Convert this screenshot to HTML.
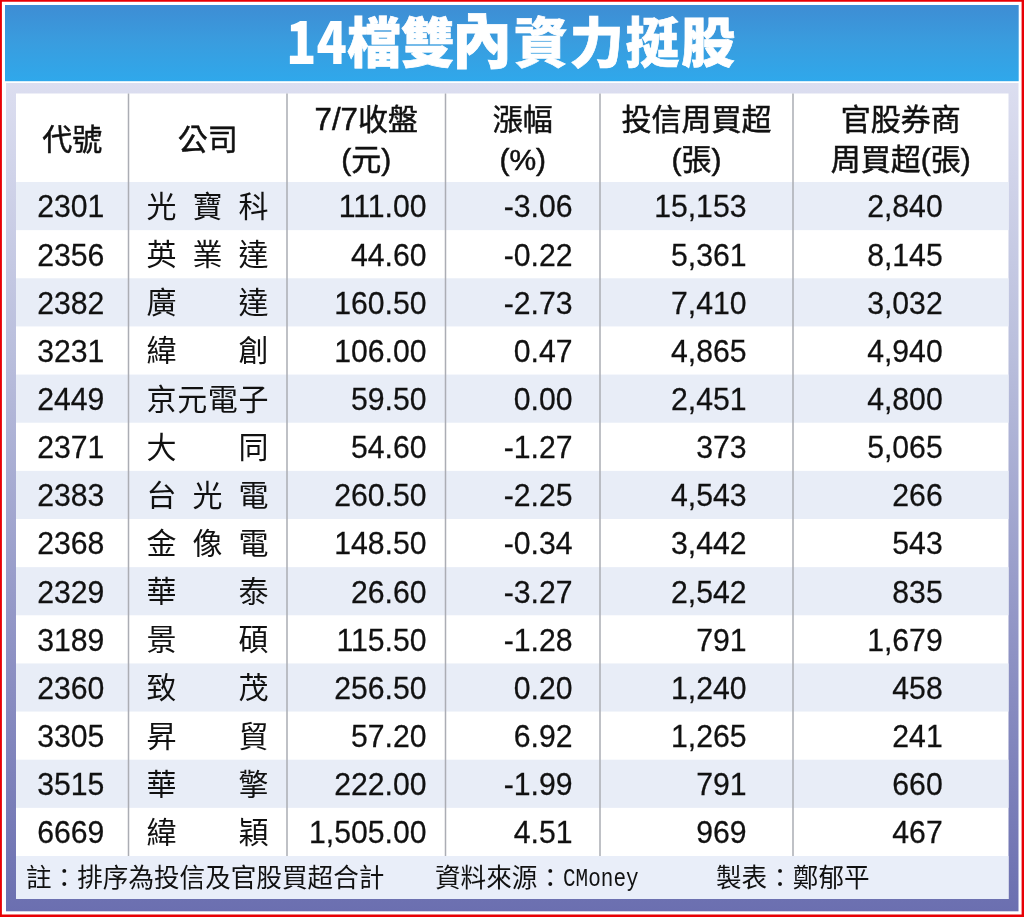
<!DOCTYPE html>
<html lang="zh-Hant">
<head>
<meta charset="utf-8">
<title>14檔雙內資力挺股</title>
<style>
html,body{margin:0;padding:0;}
body{width:1024px;height:917px;position:relative;overflow:hidden;background:#fff;
 font-family:"Liberation Sans","Noto Sans CJK TC",sans-serif;color:#111;}
.bg{position:absolute;left:0;top:0;}
.title{position:absolute;left:286px;top:-1px;height:80px;line-height:80px;margin:0;
 color:#fff;font-weight:900;font-size:56px;white-space:nowrap;font-family:"Noto Sans CJK TC","Liberation Sans",sans-serif;}
.title .n{position:absolute;left:0;top:0.75px;transform-origin:0 64px;transform:scale(0.893,1.02);}
.title .s2{display:inline-block;transform:translate(-2px,0);}
.title .nei{display:inline-block;transform:translate(-3px,-2.8px) scale(1.11,1.12);}
.title .t{position:absolute;left:61px;top:0.7px;letter-spacing:1.7px;font-size:54px;-webkit-text-stroke:0.7px #fff;}
.th{-webkit-text-stroke:0.5px #111;position:absolute;text-align:center;font-size:30px;font-weight:400;line-height:40px;white-space:nowrap;}
.th .l{font-size:31.2px;line-height:30px;}
.c{position:absolute;height:48px;line-height:48px;font-size:30px;white-space:nowrap;}
.num,.code{-webkit-text-stroke:0.25px #111;transform:scaleY(1.04);transform-origin:50% 50%;font-size:30.2px;}
.num{text-align:right;}
.code{text-align:center;}
.co{text-align:justify;text-align-last:justify;font-weight:400;font-size:30px;}
.ft{position:absolute;top:857px;height:43px;line-height:43px;font-size:25.6px;font-weight:400;white-space:nowrap;}
.mono{font-family:"Liberation Mono",monospace;font-size:21px;display:inline-block;line-height:24px;vertical-align:baseline;transform:scaleY(1.27);transform-origin:0 19px;}
</style>
</head>
<body>
<svg class="bg" width="1024" height="917" viewBox="0 0 1024 917">
<defs><linearGradient id="gb" x1="0" y1="0" x2="0" y2="1"><stop offset="0" stop-color="#3e8dd4"/><stop offset="0.5" stop-color="#399ddf"/><stop offset="1" stop-color="#2fa8eb"/></linearGradient><linearGradient id="gf" x1="0" y1="0" x2="0" y2="1"><stop offset="0" stop-color="#dcdef0"/><stop offset="0.33" stop-color="#b9bedc"/><stop offset="0.67" stop-color="#9094c5"/><stop offset="1" stop-color="#6b6fb0"/></linearGradient></defs>
<rect width="1024" height="917" fill="#fff"/>
<path fill-rule="evenodd" fill="#e80005" d="M0 0H1024V917H0Z M1.9 1.8V914.6H1021.6V1.8Z"/>
<rect x="5" y="5" width="1013.7" height="76.2" fill="url(#gb)"/>
<rect x="6" y="83" width="1012.5" height="828.3" fill="url(#gf)"/>
<rect x="16" y="93.5" width="992.5" height="805.5" fill="#fff"/>
<rect x="16" y="182.00" width="992.5" height="48.14" fill="#e8edf7"/>
<rect x="16" y="278.29" width="992.5" height="48.14" fill="#e8edf7"/>
<rect x="16" y="374.57" width="992.5" height="48.14" fill="#e8edf7"/>
<rect x="16" y="470.86" width="992.5" height="48.14" fill="#e8edf7"/>
<rect x="16" y="567.14" width="992.5" height="48.14" fill="#e8edf7"/>
<rect x="16" y="663.43" width="992.5" height="48.14" fill="#e8edf7"/>
<rect x="16" y="759.71" width="992.5" height="48.14" fill="#e8edf7"/>
<rect x="16" y="856" width="992.5" height="43" fill="#e9eef9"/>
<rect x="127.75" y="93.5" width="1.5" height="762.5" fill="#abadb4"/>
<rect x="286.25" y="93.5" width="1.5" height="762.5" fill="#abadb4"/>
<rect x="444.75" y="93.5" width="1.5" height="762.5" fill="#abadb4"/>
<rect x="599.25" y="93.5" width="1.5" height="762.5" fill="#abadb4"/>
<rect x="792.25" y="93.5" width="1.5" height="762.5" fill="#abadb4"/>
</svg>
<h1 class="title"><span class="n">14</span><span class="t">檔<span class="s2">雙</span><span class="nei">內</span>資力挺股</span></h1>
<div class="th" style="left:16px;width:112.5px;top:120.00px">代號</div>
<div class="th" style="left:128.5px;width:158.5px;top:120.00px">公司</div>
<div class="th" style="left:287px;width:158.5px;top:100.00px"><span class="l">7/7</span>收盤<br>(元)</div>
<div class="th" style="left:445.5px;width:154.5px;top:100.00px">漲幅<br>(%)</div>
<div class="th" style="left:600px;width:193px;top:100.00px">投信周買超<br>(張)</div>
<div class="th" style="left:793px;width:215.5px;top:100.00px">官股券商<br>周買超(張)</div>
<div class="c code" style="left:14.5px;width:112.5px;top:183.40px">2301</div>
<div class="c co" style="left:146.5px;width:122px;top:183.00px">光寶科</div>
<div class="c num" style="left:226.5px;width:200px;top:183.40px">111.00</div>
<div class="c num" style="left:372.5px;width:200px;top:183.40px">-3.06</div>
<div class="c num" style="left:546.5px;width:200px;top:183.40px">15,153</div>
<div class="c num" style="left:742.7px;width:200px;top:183.40px">2,840</div>
<div class="c code" style="left:14.5px;width:112.5px;top:231.54px">2356</div>
<div class="c co" style="left:146.5px;width:122px;top:231.14px">英業達</div>
<div class="c num" style="left:226.5px;width:200px;top:231.54px">44.60</div>
<div class="c num" style="left:372.5px;width:200px;top:231.54px">-0.22</div>
<div class="c num" style="left:546.5px;width:200px;top:231.54px">5,361</div>
<div class="c num" style="left:742.7px;width:200px;top:231.54px">8,145</div>
<div class="c code" style="left:14.5px;width:112.5px;top:279.69px">2382</div>
<div class="c co" style="left:146.5px;width:122px;top:279.29px">廣達</div>
<div class="c num" style="left:226.5px;width:200px;top:279.69px">160.50</div>
<div class="c num" style="left:372.5px;width:200px;top:279.69px">-2.73</div>
<div class="c num" style="left:546.5px;width:200px;top:279.69px">7,410</div>
<div class="c num" style="left:742.7px;width:200px;top:279.69px">3,032</div>
<div class="c code" style="left:14.5px;width:112.5px;top:327.83px">3231</div>
<div class="c co" style="left:146.5px;width:122px;top:327.43px">緯創</div>
<div class="c num" style="left:226.5px;width:200px;top:327.83px">106.00</div>
<div class="c num" style="left:372.5px;width:200px;top:327.83px">0.47</div>
<div class="c num" style="left:546.5px;width:200px;top:327.83px">4,865</div>
<div class="c num" style="left:742.7px;width:200px;top:327.83px">4,940</div>
<div class="c code" style="left:14.5px;width:112.5px;top:375.97px">2449</div>
<div class="c co" style="left:146.5px;width:122px;top:375.57px">京元電子</div>
<div class="c num" style="left:226.5px;width:200px;top:375.97px">59.50</div>
<div class="c num" style="left:372.5px;width:200px;top:375.97px">0.00</div>
<div class="c num" style="left:546.5px;width:200px;top:375.97px">2,451</div>
<div class="c num" style="left:742.7px;width:200px;top:375.97px">4,800</div>
<div class="c code" style="left:14.5px;width:112.5px;top:424.11px">2371</div>
<div class="c co" style="left:146.5px;width:122px;top:423.71px">大同</div>
<div class="c num" style="left:226.5px;width:200px;top:424.11px">54.60</div>
<div class="c num" style="left:372.5px;width:200px;top:424.11px">-1.27</div>
<div class="c num" style="left:546.5px;width:200px;top:424.11px">373</div>
<div class="c num" style="left:742.7px;width:200px;top:424.11px">5,065</div>
<div class="c code" style="left:14.5px;width:112.5px;top:472.26px">2383</div>
<div class="c co" style="left:146.5px;width:122px;top:471.86px">台光電</div>
<div class="c num" style="left:226.5px;width:200px;top:472.26px">260.50</div>
<div class="c num" style="left:372.5px;width:200px;top:472.26px">-2.25</div>
<div class="c num" style="left:546.5px;width:200px;top:472.26px">4,543</div>
<div class="c num" style="left:742.7px;width:200px;top:472.26px">266</div>
<div class="c code" style="left:14.5px;width:112.5px;top:520.40px">2368</div>
<div class="c co" style="left:146.5px;width:122px;top:520.00px">金像電</div>
<div class="c num" style="left:226.5px;width:200px;top:520.40px">148.50</div>
<div class="c num" style="left:372.5px;width:200px;top:520.40px">-0.34</div>
<div class="c num" style="left:546.5px;width:200px;top:520.40px">3,442</div>
<div class="c num" style="left:742.7px;width:200px;top:520.40px">543</div>
<div class="c code" style="left:14.5px;width:112.5px;top:568.54px">2329</div>
<div class="c co" style="left:146.5px;width:122px;top:568.14px">華泰</div>
<div class="c num" style="left:226.5px;width:200px;top:568.54px">26.60</div>
<div class="c num" style="left:372.5px;width:200px;top:568.54px">-3.27</div>
<div class="c num" style="left:546.5px;width:200px;top:568.54px">2,542</div>
<div class="c num" style="left:742.7px;width:200px;top:568.54px">835</div>
<div class="c code" style="left:14.5px;width:112.5px;top:616.69px">3189</div>
<div class="c co" style="left:146.5px;width:122px;top:616.29px">景碩</div>
<div class="c num" style="left:226.5px;width:200px;top:616.69px">115.50</div>
<div class="c num" style="left:372.5px;width:200px;top:616.69px">-1.28</div>
<div class="c num" style="left:546.5px;width:200px;top:616.69px">791</div>
<div class="c num" style="left:742.7px;width:200px;top:616.69px">1,679</div>
<div class="c code" style="left:14.5px;width:112.5px;top:664.83px">2360</div>
<div class="c co" style="left:146.5px;width:122px;top:664.43px">致茂</div>
<div class="c num" style="left:226.5px;width:200px;top:664.83px">256.50</div>
<div class="c num" style="left:372.5px;width:200px;top:664.83px">0.20</div>
<div class="c num" style="left:546.5px;width:200px;top:664.83px">1,240</div>
<div class="c num" style="left:742.7px;width:200px;top:664.83px">458</div>
<div class="c code" style="left:14.5px;width:112.5px;top:712.97px">3305</div>
<div class="c co" style="left:146.5px;width:122px;top:712.57px">昇貿</div>
<div class="c num" style="left:226.5px;width:200px;top:712.97px">57.20</div>
<div class="c num" style="left:372.5px;width:200px;top:712.97px">6.92</div>
<div class="c num" style="left:546.5px;width:200px;top:712.97px">1,265</div>
<div class="c num" style="left:742.7px;width:200px;top:712.97px">241</div>
<div class="c code" style="left:14.5px;width:112.5px;top:761.11px">3515</div>
<div class="c co" style="left:146.5px;width:122px;top:760.71px">華擎</div>
<div class="c num" style="left:226.5px;width:200px;top:761.11px">222.00</div>
<div class="c num" style="left:372.5px;width:200px;top:761.11px">-1.99</div>
<div class="c num" style="left:546.5px;width:200px;top:761.11px">791</div>
<div class="c num" style="left:742.7px;width:200px;top:761.11px">660</div>
<div class="c code" style="left:14.5px;width:112.5px;top:809.26px">6669</div>
<div class="c co" style="left:146.5px;width:122px;top:808.86px">緯穎</div>
<div class="c num" style="left:226.5px;width:200px;top:809.26px">1,505.00</div>
<div class="c num" style="left:372.5px;width:200px;top:809.26px">4.51</div>
<div class="c num" style="left:546.5px;width:200px;top:809.26px">969</div>
<div class="c num" style="left:742.7px;width:200px;top:809.26px">467</div>
<div class="ft" style="left:26px">註：排序為投信及官股買超合計</div>
<div class="ft" style="left:435px">資料來源：<span class="mono">CMoney</span></div>
<div class="ft" style="left:716px">製表：鄭郁平</div>
</body>
</html>
